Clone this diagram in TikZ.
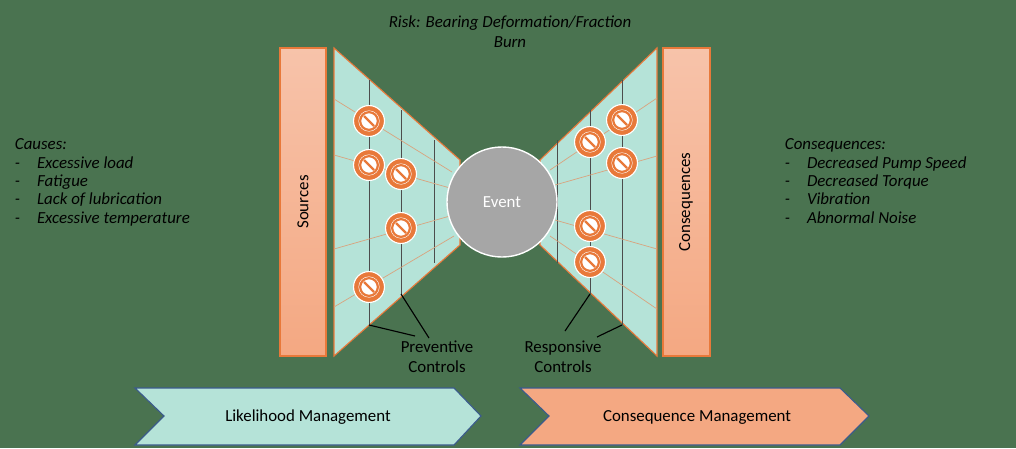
\documentclass[tikz,border=0pt]{standalone}
\usepackage{fontspec}
\setmainfont{Carlito}
\usetikzlibrary{calc}
\definecolor{bg}{HTML}{4A7350}
\definecolor{teal}{HTML}{B5E3D8}
\definecolor{salmon}{HTML}{F4A882}
\definecolor{salmonlt}{HTML}{F7C3AA}
\definecolor{edge}{HTML}{E8793A}
\definecolor{ray}{HTML}{D9A37E}
\definecolor{event}{HTML}{A6A6A6}
\definecolor{navy}{HTML}{3B5B8C}

\tikzset{
  bar/.style={draw=edge,top color=salmonlt,bottom color=salmon,line width=0.8pt},
  wing/.style={draw=edge,fill=teal,line width=0.8pt},
  barrier/.style={draw=black!70,line width=0.5pt},
  beam/.style={draw=ray,line width=0.5pt},
  stop/.style={circle,draw=white,fill=edge,line width=0.8pt,minimum size=22pt,inner sep=0pt},
  caption/.style={font=\itshape\large,align=left,anchor=north west},
  chevron/.style={draw=navy,line width=0.8pt},
}

\begin{document}
\begin{tikzpicture}[x=0.025cm,y=-0.025cm]
\fill[bg] (0,0) rectangle (1016,448);

% bars
\draw[bar] (280,48) rectangle (326,356);
\node[rotate=90,font=\large] (src) at (303,202) {Sources};
\draw[bar] (663,48) rectangle (710,356);
\node[rotate=90,font=\large] (cons) at (686,202) {Consequences};

% left wing
\draw[wing] (334,48) -- (460,160) -- (460,245) -- (334,356) -- cycle;
\draw[barrier] (369,80) -- (369,325);
\draw[barrier] (401,110) -- (401,294);
\draw[barrier] (434,140) -- (434,263);
\draw[beam] (334,99) -- (452,172);
\draw[beam] (334,155) -- (450,188);
\draw[beam] (334,249) -- (450,216);
\draw[beam] (334,307) -- (454,236);

% right wing
\draw[wing] (657,48) -- (540,160) -- (540,245) -- (657,356) -- cycle;
\draw[barrier] (557,140) -- (557,263);
\draw[barrier] (590,110) -- (590,294);
\draw[barrier] (622,80) -- (622,325);
\draw[beam] (657,98) -- (550,170);
\draw[beam] (657,156) -- (555,185);
\draw[beam] (657,249) -- (555,220);
\draw[beam] (657,309) -- (550,236);

% event
\node[circle,draw=white,fill=event,line width=1pt,minimum size=2.75cm,font=\large,text=white] (ev) at (502,202) {Event};

% barriers
\foreach \n/\p in {a/{369,121},b/{369,165},c/{401,174},d/{401,228},e/{369,287},
                   f/{590,142},g/{622,120},h/{622,163},i/{590,226},j/{590,262}}{
  \node[stop] (s\n) at (\p) {};
  \fill[white] (s\n.center) circle (7.5pt);
  \draw[edge,line width=1.6pt] (s\n.center) circle (6.3pt);
  \draw[edge,line width=1.6pt] ($(s\n.center)+(-5,-5)$) -- ($(s\n.center)+(5,5)$);
}

% labels
\node[font=\itshape\large,align=center] (risk) at (510,32) {Risk: Bearing Deformation/Fraction\\Burn};
\node[caption] (causes) at (10,134) {Causes:\\[-1pt]
-\quad Excessive load\\[-1pt]
-\quad Fatigue\\[-1pt]
-\quad Lack of lubrication\\[-1pt]
-\quad Excessive temperature};
\node[caption] (conseq) at (780,134) {Consequences:\\[-1pt]
-\quad Decreased Pump Speed\\[-1pt]
-\quad Decreased Torque\\[-1pt]
-\quad Vibration\\[-1pt]
-\quad Abnormal Noise};

\node[font=\large,align=center] (prev) at (437,357) {Preventive\\Controls};
\node[font=\large,align=center] (resp) at (563,357) {Responsive\\Controls};
\coordinate (p1) at (369,325); \coordinate (p2) at (401,294);
\coordinate (r1) at (590,294); \coordinate (r2) at (622,325);
\draw[thick] (p1) -- (415,336);
\draw[thick] (p2) -- (429,338);
\draw[thick] (r1) -- (565,331);
\draw[thick] (r2) -- (597,337);

% chevrons
\draw[chevron,fill=teal] (135,388) -- (454,388) -- (481,416) -- (454,445) -- (135,445) -- (164,416) -- cycle;
\node[font=\large] (lm) at (308,417) {Likelihood Management};
\draw[chevron,fill=salmon] (520,388) -- (840,388) -- (869,416) -- (840,445) -- (520,445) -- (549,416) -- cycle;
\node[font=\large] (cm) at (697,417) {Consequence Management};
\end{tikzpicture}
\end{document}
